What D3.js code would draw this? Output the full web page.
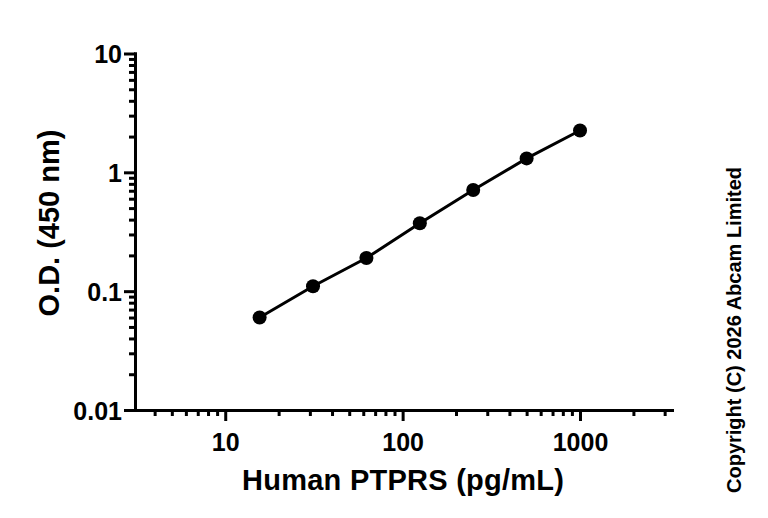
<!DOCTYPE html>
<html lang="en">
<head>
<meta charset="utf-8">
<title>Human PTPRS standard curve</title>
<style>
  body { margin: 0; background: #fff; }
  svg { display: block; }
  .axis path, .axis line { stroke: #000; stroke-width: 3; }
  .axis text { font-family: "Liberation Sans Narrow", "Arial Narrow", "Liberation Sans", sans-serif; font-stretch: condensed; font-weight: bold; font-size: 25px; fill: #000; }
  .title { font-family: "Liberation Sans", Arial, sans-serif; font-weight: bold; fill: #000; }
  .fit { fill: none; stroke: #000; stroke-width: 3; }
  .dot { fill: #000; }
</style>
</head>
<body>
<div id="chart"></div>
<script src="https://cdn.jsdelivr.net/npm/d3@7"></script>
<script>
// concentrations (pg/mL) and mean O.D. at 450 nm
var conc = [15.625, 31.25, 62.5, 125, 250, 500, 1000];
var od = [0.060, 0.110, 0.190, 0.373, 0.711, 1.31, 2.25];

var xMajor = [10, 100, 1000];
var xMinor = [4, 5, 6, 7, 8, 9, 20, 30, 40, 50, 60, 70, 80, 90, 200, 300, 400, 500, 600, 700, 800, 900, 2000, 3000];
var xLabels = ["10", "100", "1000"];
var yMajor = [0.01, 0.1, 1, 10];
var yMinor = [0.02, 0.03, 0.04, 0.05, 0.06, 0.07, 0.08, 0.09, 0.2, 0.3, 0.4, 0.5, 0.6, 0.7, 0.8, 0.9, 2, 3, 4, 5, 6, 7, 8, 9];
var yLabels = ["0.01", "0.1", "1", "10"];

var width = 768, height = 518;

var svg = d3.select('#chart').append('svg')
  .attr('width', width).attr('height', height);

var x = d3.scaleLog().domain([3.1, 3300]).range([135, 672]);
var y = d3.scaleLog().domain([0.01, 10]).range([410, 53.5]);

// minor ticks first, then major on top
svg.append('g').attr('class', 'axis')
  .attr('transform', 'translate(0,410)')
  .call(d3.axisBottom(x).tickValues(xMinor).tickSize(6).tickFormat('').tickSizeOuter(0));
svg.append('g').attr('class', 'axis')
  .attr('transform', 'translate(135,0)')
  .call(d3.axisLeft(y).tickValues(yMinor).tickSize(6).tickFormat('').tickSizeOuter(0));

var xa = svg.append('g').attr('class', 'axis')
  .attr('transform', 'translate(0,410)')
  .call(d3.axisBottom(x).tickValues(xMajor).tickSize(11).tickSizeOuter(0)
    .tickFormat(function(d, i){ return xLabels[i]; }));
xa.selectAll('text').attr('y', 23).attr('dy', '0.71em');

var ya = svg.append('g').attr('class', 'axis')
  .attr('transform', 'translate(135,0)')
  .call(d3.axisLeft(y).tickValues(yMajor).tickSize(11).tickSizeOuter(0)
    .tickFormat(function(d, i){ return yLabels[i]; }));
ya.selectAll('text').attr('x', -13).attr('dy', '0.36em');

svg.selectAll('.axis path').attr('stroke-linecap', 'square');

var line = d3.line()
  .x(function(d, i){ return x(conc[i]); })
  .y(function(d){ return y(d); });

svg.append('path').datum(od)
  .attr('class', 'fit')
  .attr('d', line);

svg.selectAll('circle.dot').data(od).enter()
  .append('circle')
  .attr('class', 'dot')
  .attr('cx', function(d, i){ return x(conc[i]); })
  .attr('cy', function(d){ return y(d); })
  .attr('r', 7);

svg.append('text').attr('class', 'title')
  .attr('x', 403).attr('y', 490)
  .attr('text-anchor', 'middle')
  .style('font-size', '29px')
  .attr('textLength', 322)
  .text('Human PTPRS (pg/mL)');

svg.append('text').attr('class', 'title')
  .attr('transform', 'translate(59,223) rotate(-90)')
  .attr('text-anchor', 'middle')
  .style('font-size', '29px')
  .text('O.D. (450 nm)');

svg.append('text').attr('class', 'title')
  .attr('transform', 'translate(741,330) rotate(-90)')
  .attr('text-anchor', 'middle')
  .style('font-size', '20px')
  .text('Copyright (C) 2026 Abcam Limited');
</script>
</body>
</html>
